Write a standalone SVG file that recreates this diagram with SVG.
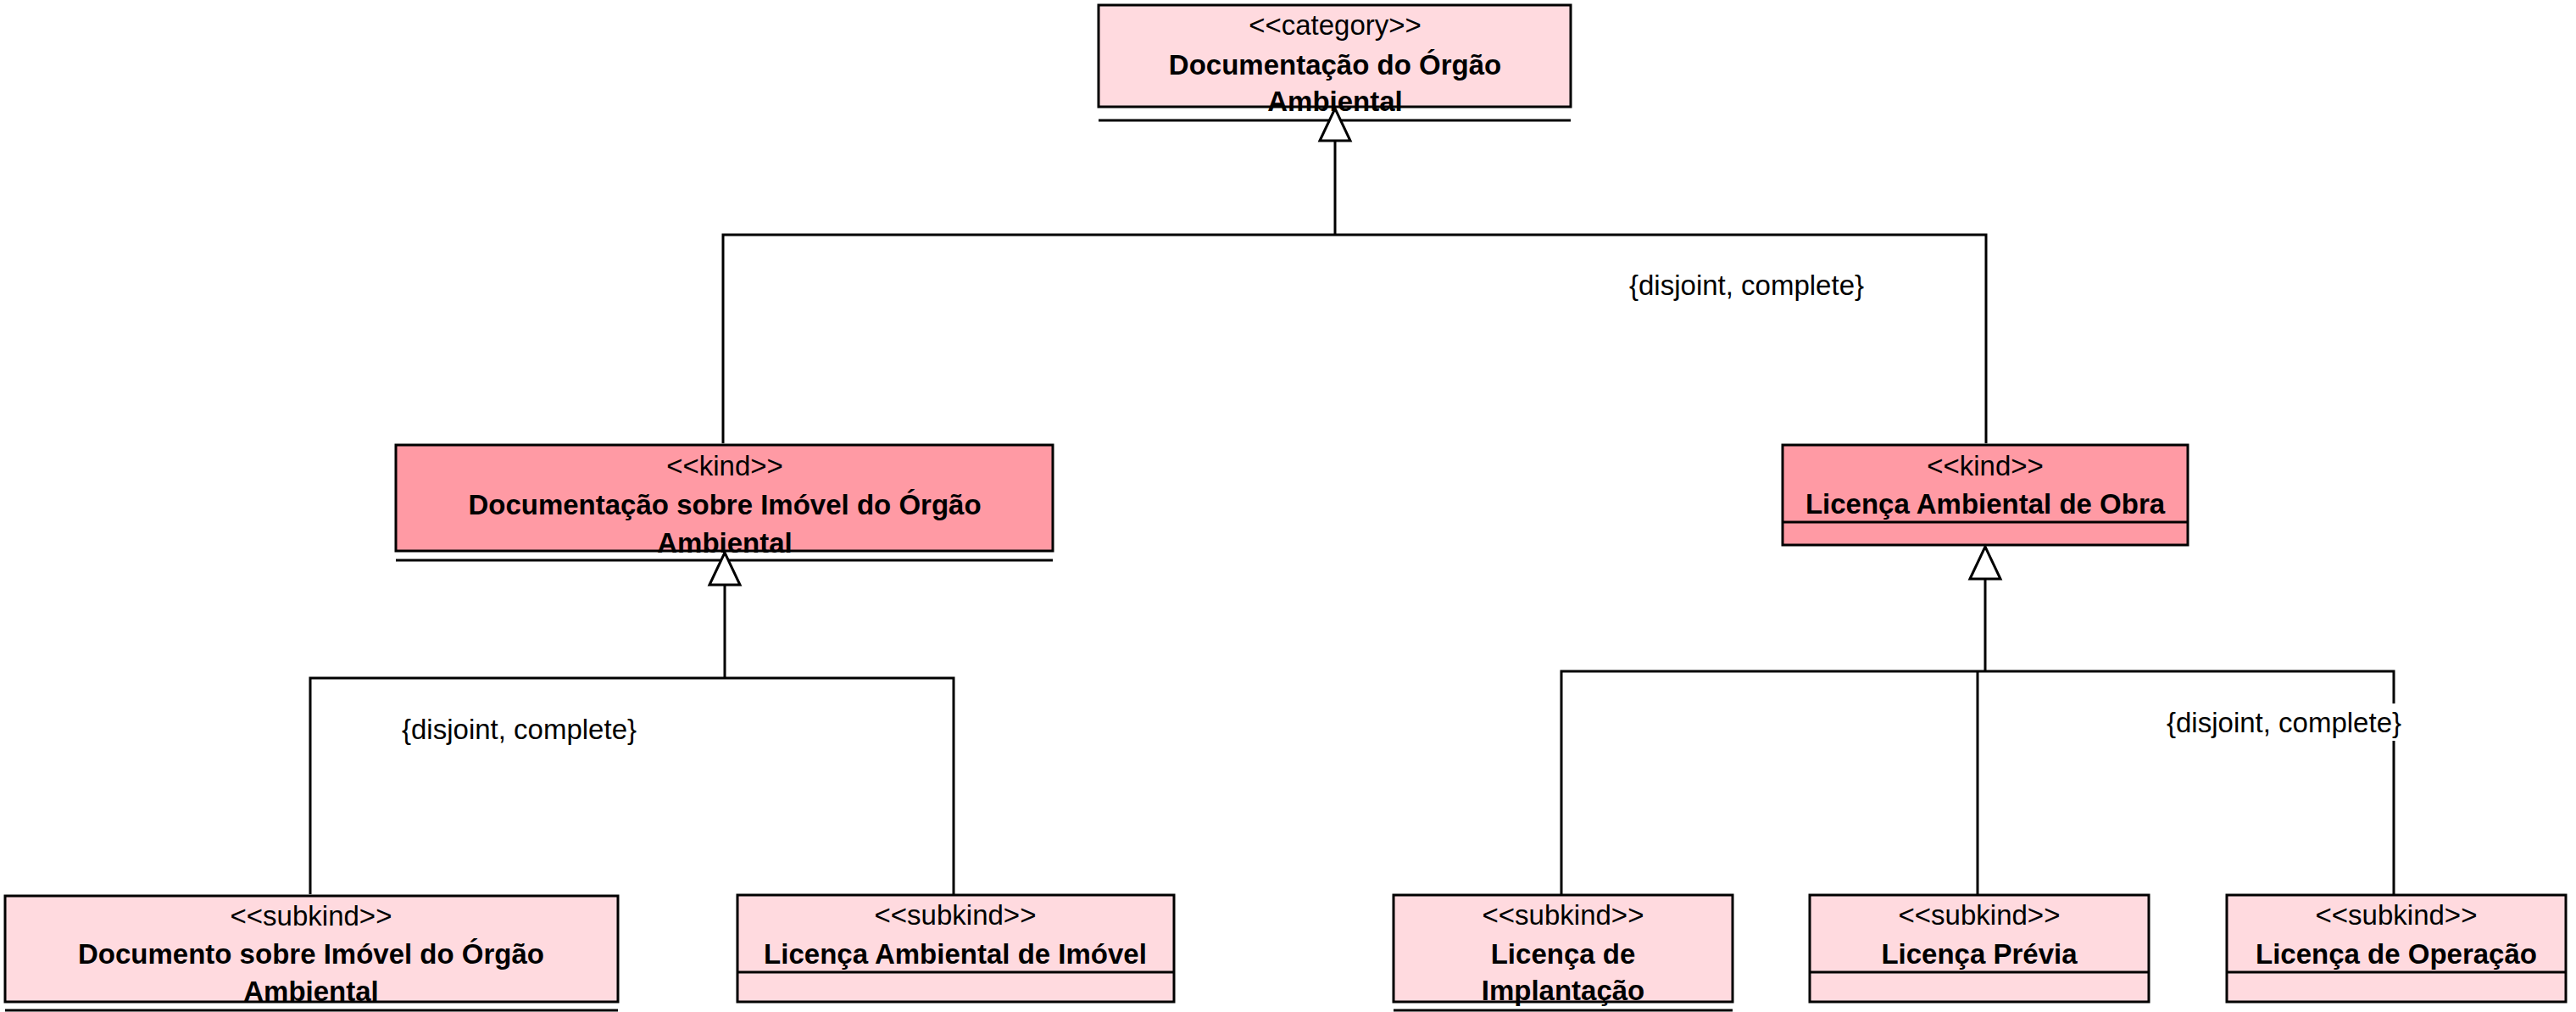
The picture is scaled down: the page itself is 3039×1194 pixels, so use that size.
<svg xmlns="http://www.w3.org/2000/svg" width="3039" height="1194" viewBox="0 0 3039 1194">
<style>
.box{stroke:#000;stroke-width:3}
.light{fill:#FFDADF}
.dark{fill:#FF9AA4}
.sep{stroke:#000;stroke-width:3;fill:none}
.st{font-family:"Liberation Sans",Arial,sans-serif;font-size:33px;text-anchor:middle;fill:#000}
.nm{font-family:"Liberation Sans",Arial,sans-serif;font-size:33px;font-weight:bold;text-anchor:middle;fill:#000}
.lbl{font-family:"Liberation Sans",Arial,sans-serif;font-size:33px;fill:#000}
.ln{stroke:#000;stroke-width:3;fill:none}
.gen{stroke:#000;stroke-width:3;fill:none;marker-end:url(#tri)}
</style>
<defs>
<marker id="tri" markerUnits="userSpaceOnUse" viewBox="-3 -22 44 44" markerWidth="44" markerHeight="44" refX="38" refY="0" orient="auto" overflow="visible">
<path d="M0,-18 L38,0 L0,18 Z" fill="#fff" stroke="#000" stroke-width="3"/>
</marker>
</defs>
<rect width="3039" height="1194" fill="#fff"/>

<g id="node-documentacao-orgao">
<rect class="box light" x="1296" y="6" width="557" height="120"/>
<text class="st" x="1575" y="41">&lt;&lt;category&gt;&gt;</text>
<text class="nm" x="1575" y="88">Documentação do Órgão</text>
<text class="nm" x="1575" y="131">Ambiental</text>
<line class="sep" x1="1296" y1="142" x2="1853" y2="142"/>
</g>

<g id="node-documentacao-imovel">
<rect class="box dark" x="467" y="525" width="775" height="125"/>
<text class="st" x="855" y="561">&lt;&lt;kind&gt;&gt;</text>
<text class="nm" x="855" y="607">Documentação sobre Imóvel do Órgão</text>
<text class="nm" x="855" y="652">Ambiental</text>
<line class="sep" x1="467" y1="661" x2="1242" y2="661"/>
</g>

<g id="node-licenca-obra">
<rect class="box dark" x="2103" y="525" width="478" height="118"/>
<text class="st" x="2342" y="561">&lt;&lt;kind&gt;&gt;</text>
<text class="nm" x="2342" y="606">Licença Ambiental de Obra</text>
<line class="sep" x1="2103" y1="616" x2="2581" y2="616"/>
</g>

<g id="node-documento-imovel">
<rect class="box light" x="6" y="1057" width="723" height="125"/>
<text class="st" x="367" y="1092">&lt;&lt;subkind&gt;&gt;</text>
<text class="nm" x="367" y="1137">Documento sobre Imóvel do Órgão</text>
<text class="nm" x="367" y="1181">Ambiental</text>
<line class="sep" x1="6" y1="1192" x2="729" y2="1192"/>
</g>

<g id="node-licenca-imovel">
<rect class="box light" x="870" y="1056" width="515" height="126"/>
<text class="st" x="1127" y="1091">&lt;&lt;subkind&gt;&gt;</text>
<text class="nm" x="1127" y="1137">Licença Ambiental de Imóvel</text>
<line class="sep" x1="870" y1="1147" x2="1385" y2="1147"/>
</g>

<g id="node-licenca-implantacao">
<rect class="box light" x="1644" y="1056" width="400" height="126"/>
<text class="st" x="1844" y="1091">&lt;&lt;subkind&gt;&gt;</text>
<text class="nm" x="1844" y="1137">Licença de</text>
<text class="nm" x="1844" y="1180">Implantação</text>
<line class="sep" x1="1644" y1="1192" x2="2044" y2="1192"/>
</g>

<g id="node-licenca-previa">
<rect class="box light" x="2135" y="1056" width="400" height="126"/>
<text class="st" x="2335" y="1091">&lt;&lt;subkind&gt;&gt;</text>
<text class="nm" x="2335" y="1137">Licença Prévia</text>
<line class="sep" x1="2135" y1="1147" x2="2535" y2="1147"/>
</g>

<g id="node-licenca-operacao">
<rect class="box light" x="2627" y="1056" width="400" height="126"/>
<text class="st" x="2827" y="1091">&lt;&lt;subkind&gt;&gt;</text>
<text class="nm" x="2827" y="1137">Licença de Operação</text>
<line class="sep" x1="2627" y1="1147" x2="3027" y2="1147"/>
</g>

<g id="connectors">
<path class="ln" d="M853,523 V277 H2343 V523"/>
<path class="gen" d="M1575,277 V128"/>
<path class="ln" d="M366,1055 V800 H1125 V1055"/>
<path class="gen" d="M855,800 V652"/>
<path class="ln" d="M1842,1055 V792 H2824 V1055"/>
<path class="ln" d="M2333,792 V1055"/>
<path class="gen" d="M2342,792 V645"/>
</g>

<g id="labels">
<text class="lbl" x="1922" y="348">{disjoint, complete}</text>
<text class="lbl" x="474" y="872">{disjoint, complete}</text>
<rect x="2550" y="830" width="292" height="44" fill="#fff"/>
<text class="lbl" x="2556" y="864">{disjoint, complete}</text>
</g>
</svg>
